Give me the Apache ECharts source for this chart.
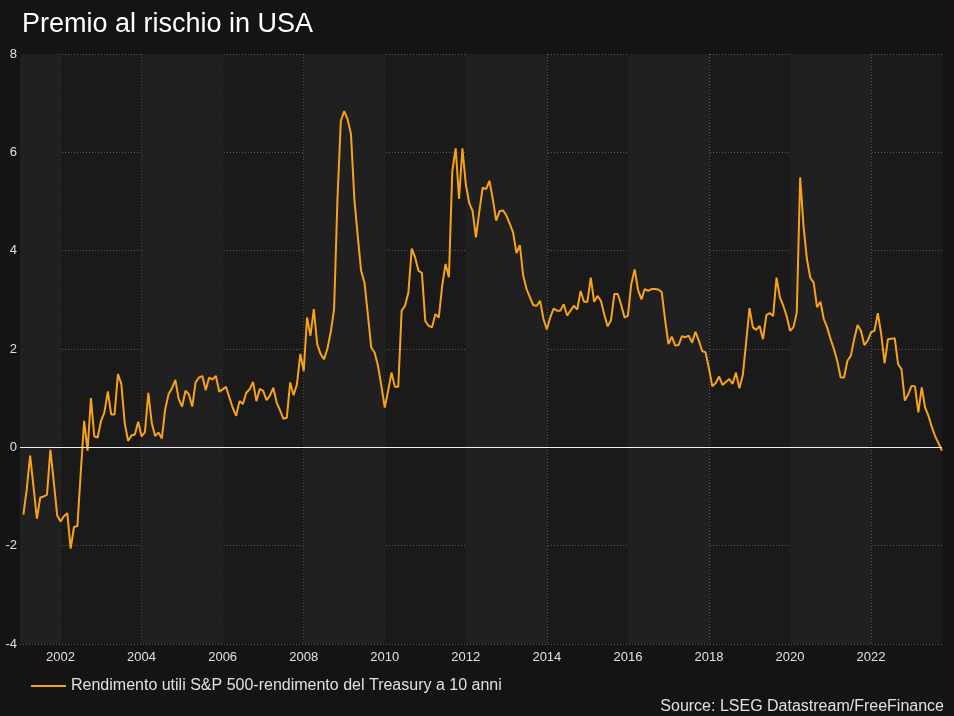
<!DOCTYPE html>
<html>
<head>
<meta charset="utf-8">
<script src="https://cdn.jsdelivr.net/npm/echarts@6/dist/echarts.min.js"></script>
<style>
html,body{margin:0;padding:0;background:#141414;}
#chart{width:954px;height:716px;}
</style>
</head>
<body>
<div id="chart"></div>
<script>
// ---- data (monthly, end of month, from Jan 2001) ----
const startYear = 2001;
const values = [
  -1.37,-0.85,-0.17,-0.8,-1.45,-1.02,-1.0,-0.96,-0.05,-0.7,-1.38,-1.51,   // 2001
  -1.4,-1.34,-2.06,-1.62,-1.6,-0.5,0.54,-0.07,1.0,0.22,0.2,0.54,          // 2002
  0.71,1.14,0.67,0.67,1.49,1.29,0.5,0.13,0.24,0.26,0.52,0.22,             // 2003
  0.31,1.11,0.5,0.23,0.3,0.18,0.78,1.08,1.2,1.37,0.98,0.83,               // 2004
  1.15,1.08,0.83,1.32,1.42,1.45,1.16,1.42,1.38,1.45,1.13,1.18,            // 2005
  1.23,1.01,0.8,0.64,0.94,0.88,1.11,1.18,1.33,0.94,1.19,1.15,             // 2006
  0.96,1.05,1.21,0.91,0.75,0.58,0.6,1.32,1.06,1.28,1.9,1.55,              // 2007
  2.64,2.27,2.81,2.1,1.9,1.79,2.0,2.34,2.81,5.05,6.64,6.84,               // 2008
  6.67,6.37,5.05,4.3,3.59,3.35,2.7,2.03,1.93,1.66,1.25,0.81,              // 2009
  1.15,1.52,1.23,1.23,2.78,2.88,3.15,4.04,3.86,3.59,3.55,2.57,            // 2010
  2.47,2.44,2.71,2.64,3.28,3.73,3.46,5.62,6.08,5.05,6.08,5.35,            // 2011
  4.97,4.81,4.27,4.8,5.28,5.25,5.42,5.05,4.61,4.8,4.82,4.72,              // 2012
  4.55,4.37,3.95,4.11,3.49,3.22,3.05,2.89,2.88,2.98,2.61,2.4,             // 2013
  2.64,2.82,2.78,2.78,2.91,2.68,2.78,2.88,2.8,3.18,2.96,2.96,             // 2014
  3.45,2.96,3.08,2.98,2.7,2.46,2.59,3.12,3.12,2.9,2.64,2.68,              // 2015
  3.32,3.62,3.2,3.01,3.22,3.18,3.22,3.22,3.21,3.16,2.6,2.1,               // 2016
  2.25,2.07,2.08,2.26,2.24,2.27,2.13,2.35,2.17,1.96,1.93,1.6,             // 2017
  1.24,1.31,1.44,1.27,1.33,1.39,1.29,1.52,1.2,1.46,2.13,2.83,             // 2018
  2.44,2.39,2.47,2.2,2.69,2.73,2.67,3.45,3.05,2.88,2.67,2.37,             // 2019
  2.44,2.74,5.49,4.5,3.83,3.45,3.35,2.85,2.96,2.61,2.44,2.2,              // 2020
  2.0,1.75,1.42,1.42,1.76,1.86,2.2,2.49,2.37,2.08,2.17,2.34,              // 2021
  2.37,2.73,2.3,1.71,2.2,2.21,2.22,1.69,1.59,0.95,1.08,1.25,              // 2022
  1.24,0.71,1.22,0.81,0.64,0.41,0.22,0.08,-0.07                           // 2023
];
const tickYears = [2002,2004,2006,2008,2010,2012,2014,2016,2018,2020,2022];
const seriesName = 'Rendimento utili S&P 500-rendimento del Treasury a 10 anni';
const titleText = 'Premio al rischio in USA';
const sourceText = 'Source: LSEG Datastream/FreeFinance';

// month-end dates as fractional years
const dates = values.map((v, i) => startYear + (i + 1) / 12);
const seriesData = values.map((v, i) => [dates[i], v]);

const xMin = 2001;
const xMax = 2023.75;

// alternating lighter bands (every other 2-year block)
const bandEdges = [xMin].concat(tickYears).concat([xMax]);
const bands = [];
for (let i = 0; i < bandEdges.length - 1; i += 2) {
  bands.push([{ xAxis: bandEdges[i] }, { xAxis: bandEdges[i + 1] }]);
}

const sans = "'Liberation Sans', Arial, sans-serif";
const chart = echarts.init(document.getElementById('chart'), null, { renderer: 'canvas' });
chart.setOption({
  backgroundColor: '#141414',
  animation: false,
  title: {
    text: titleText,
    left: 17, top: 6,
    textStyle: { color: '#ffffff', fontSize: 27, fontWeight: 'normal', fontFamily: sans }
  },
  grid: {
    left: 20, right: 12, top: 54, bottom: 72,
    show: true, backgroundColor: '#1a1a1a', borderWidth: 0
  },
  legend: {
    left: 26, top: 673,
    icon: 'rect', itemWidth: 35, itemHeight: 2, itemGap: 10,
    textStyle: { color: '#e0e0e0', fontSize: 16, fontFamily: sans },
    data: [seriesName]
  },
  graphic: [{
    type: 'text', right: 10, top: 699,
    style: { text: sourceText, fill: '#e0e0e0', font: "16px " + sans }
  }],
  xAxis: {
    type: 'value', min: xMin, max: xMax,
    axisLine: { show: false },
    axisTick: { show: false, customValues: tickYears },
    axisLabel: {
      customValues: tickYears, color: '#e0e0e0', fontSize: 13, fontFamily: sans, margin: 7,
      formatter: v => String(v)
    },
    splitLine: { show: true, lineStyle: { color: '#5a5a5a', type: [1, 2], width: 1 } }
  },
  yAxis: {
    type: 'value', min: -4, max: 8, interval: 2,
    axisLine: { show: false }, axisTick: { show: false },
    axisLabel: { color: '#e0e0e0', fontSize: 13, fontFamily: sans, margin: 3 },
    splitLine: { show: true, lineStyle: { color: '#5a5a5a', type: [1, 2], width: 1 } }
  },
  series: [{
    name: seriesName,
    type: 'line',
    data: seriesData,
    showSymbol: false,
    symbol: 'none',
    color: '#f7a21b',
    lineStyle: { color: '#f7a21b', width: 2 },
    z: 3,
    markArea: {
      silent: true,
      itemStyle: { color: '#202020' },
      data: bands
    },
    markLine: {
      silent: true, symbol: 'none', label: { show: false },
      lineStyle: { color: '#f0f0f0', type: 'solid', width: 1 },
      data: [{ yAxis: 0 }]
    }
  }]
});
</script>
</body>
</html>
